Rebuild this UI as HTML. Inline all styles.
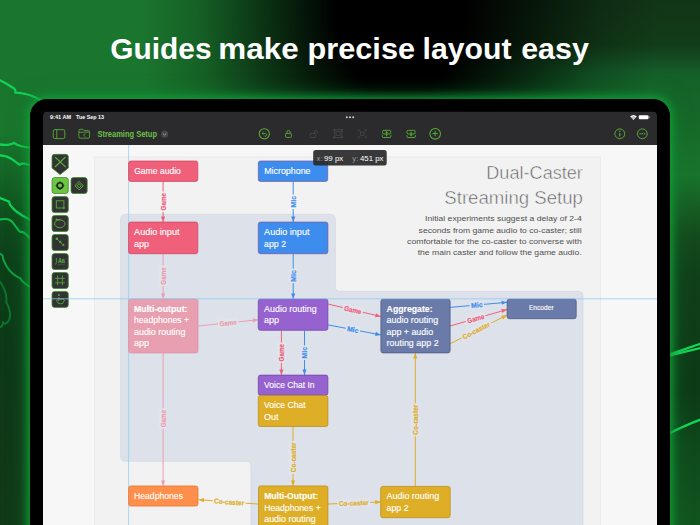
<!DOCTYPE html>
<html><head><meta charset="utf-8"><title>Guides make precise layout easy</title>
<style>
html,body{margin:0;padding:0;}
body{width:700px;height:525px;overflow:hidden;position:relative;background:#0b2e14;font-family:"Liberation Sans", sans-serif;}
#bg{position:absolute;left:0;top:0;width:700px;height:525px;
background:
 radial-gradient(ellipse 260px 330px at 400px 10px, #000 0%, #000 25%, rgba(0,0,0,0.9) 31%, rgba(0,0,0,0.67) 46%, rgba(0,0,0,0.43) 61.5%, rgba(0,0,0,0.18) 78%, rgba(0,0,0,0) 100%),
 linear-gradient(to bottom, #1a762e 0px, #1a752d 135px, #146225 180px, #0f4a1c 225px, #0d4019 260px, #0d3918 340px, #103818 440px, #113a19 525px) 0 0 / 350px 525px no-repeat,
 linear-gradient(to bottom, #113417 0px, #123c19 45px, #15602a 75px, #166828 120px, #19742d 175px, #175f25 205px, #144b1d 235px, #10401a 275px, #0d3a16 390px, #0f4a1c 450px, #12551f 525px) 350px 0 / 350px 525px no-repeat;}
#tablet{position:absolute;left:30.3px;top:99px;width:639.4px;height:460px;border-radius:17px;background:#000;
box-shadow:0 0 8px 1.5px rgba(18,158,58,0.95), 0 0 18px 4px rgba(16,140,52,0.5);}
svg{position:absolute;left:0;top:0;}
text{font-family:"Liberation Sans", sans-serif;}
</style></head><body>
<div id="bg"></div>
<svg width="700" height="525" viewBox="0 0 700 525">
<g fill="none" stroke-linecap="round" stroke-linejoin="round">
<g stroke="#11d356" stroke-width="2.3">
<path d="M-2,79.2 Q7,83.5 13.7,88.2 Q16,90 15.4,92.6 Q19,92.6 22.6,93.3 Q28,94.2 32.2,96 Q37,98 42,101"/>
<path d="M-2,144.2 Q5,145.4 9,144.6 Q12.5,144 14,142.9 Q17,145 20.6,146 Q25,147 31,147.6"/>
<path d="M-2,155 Q3,155.6 6.9,156.6 Q11.5,158.4 15,161.4 Q17.5,163.4 19.5,164.8 Q21,163.4 23.3,163.4 Q27,164 31,165.8"/>
<path d="M-2,197.2 Q2,198.6 5.5,200.3 Q7.6,201.2 9.3,201.7 Q9.2,203.4 10.3,205.1 Q13,209 17.1,212 Q23,216.5 31,220.2"/>
</g>
<g stroke="#0fb84a" stroke-width="2.1">
<path d="M-2,219.8 Q3,218.6 6.9,219.1 Q10,219.8 12,221.6 Q14.5,224.5 16.5,227.5 Q18,230 19.7,231.6 Q21.8,231.6 23.8,232.5 Q27,234.6 31,239.4"/>
</g>
<g stroke="#0da242" stroke-width="2">
<path d="M-2,252.6 Q1,254 2.7,255.8 Q2.8,258 3.7,260.4 Q5,264 7,267 Q10,271.4 13.5,274.2 Q16.5,276.6 20.6,278.5 Q21.2,280.2 22.9,281.7 Q26,284.4 31,287.6"/>
</g>
<g stroke="#0c7631" stroke-width="1.9">
<path d="M-2,279.8 Q1.4,283 2.7,285.8 Q4.8,290 5.9,294 Q6.6,298.4 6.4,302.7 Q8.6,306 9.1,309 Q10.4,313 10,316.5 Q9.4,320 7.8,322 Q6,323.8 4.6,323.8 Q3.6,323.2 3.2,322 Q2.8,325 1.8,326.5 L-2,327.6"/>
</g>
<g stroke="#12d858" stroke-width="2.3">
<path d="M669,354.6 L702,343.2"/><path d="M669,355.6 L702,347.6"/>
<path d="M669,433.6 Q683.5,426 702,419"/>
</g>
</g>
</svg>
<div id="tablet"></div>
<svg width="700" height="525" viewBox="0 0 700 525">
<defs><clipPath id="scr"><path d="M43,530 V116 Q43,111.6 47.4,111.6 H652.7 Q657.1,111.6 657.1,116 V530 Z"/></clipPath></defs>
<g clip-path="url(#scr)">
<rect x="43" y="145" width="614" height="390" fill="#f7f7f7"/>
<rect x="94.5" y="157" width="506" height="380" fill="#f2f2f2" stroke="#e4e4e4" stroke-width="0.6"/>
<path d="M125.6,214.4 H330.3 Q335.3,214.4 335.3,219.4 V286.3 Q335.3,291.3 340.3,291.3 H578 Q583,291.3 583,296.3 V540 H250.9 V466.3 Q250.9,461.3 245.9,461.3 H125.6 Q120.6,461.3 120.6,456.3 V219.4 Q120.6,214.4 125.6,214.4 Z" fill="#dde1ea" stroke="#cdd3e0" stroke-width="0.6"/>
<line x1="128.6" y1="145" x2="128.6" y2="525" stroke="#8fcdf2" stroke-width="0.7"/>
<line x1="163.1" y1="181.5" x2="163.1" y2="222" stroke="#f0607a" stroke-width="1"/><polygon points="163.10,222.00 161.00,216.60 165.20,216.60" fill="#f0607a"/><g transform="translate(163.10,201.75) rotate(-90.00)"><rect x="-10.25" y="-4.4" width="20.50" height="8.8" fill="#f2f2f2"/><text x="0" y="2.5" font-size="7" fill="#f0607a" font-weight="bold" text-anchor="middle" textLength="17.5" lengthAdjust="spacingAndGlyphs" stroke="#f0607a" stroke-width="0.18">Game</text></g>
<line x1="293.2" y1="181.5" x2="293.2" y2="222" stroke="#3d8dee" stroke-width="1"/><polygon points="293.20,222.00 291.10,216.60 295.30,216.60" fill="#3d8dee"/><g transform="translate(293.20,201.75) rotate(-90.00)"><rect x="-7.25" y="-4.4" width="14.50" height="8.8" fill="#f2f2f2"/><text x="0" y="2.5" font-size="7" fill="#3d8dee" font-weight="bold" text-anchor="middle" textLength="11.5" lengthAdjust="spacingAndGlyphs" stroke="#3d8dee" stroke-width="0.18">Mic</text></g>
<line x1="163.1" y1="254" x2="163.1" y2="298.8" stroke="#e89fb0" stroke-width="1"/><polygon points="163.10,298.80 161.00,293.40 165.20,293.40" fill="#e89fb0"/><g transform="translate(163.10,275.95) rotate(-90.00)"><rect x="-10.25" y="-4.4" width="20.50" height="8.8" fill="#e1e4ec"/><text x="0" y="2.5" font-size="7" fill="#e89fb0" font-weight="bold" text-anchor="middle" textLength="17.5" lengthAdjust="spacingAndGlyphs" stroke="#e89fb0" stroke-width="0.18">Game</text></g>
<line x1="293.2" y1="254" x2="293.2" y2="298.8" stroke="#3d8dee" stroke-width="1"/><polygon points="293.20,298.80 291.10,293.40 295.30,293.40" fill="#3d8dee"/><g transform="translate(293.20,275.95) rotate(-90.00)"><rect x="-7.25" y="-4.4" width="14.50" height="8.8" fill="#e1e4ec"/><text x="0" y="2.5" font-size="7" fill="#3d8dee" font-weight="bold" text-anchor="middle" textLength="11.5" lengthAdjust="spacingAndGlyphs" stroke="#3d8dee" stroke-width="0.18">Mic</text></g>
<line x1="163.1" y1="353" x2="163.1" y2="485.8" stroke="#e89fb0" stroke-width="1"/><polygon points="163.10,485.80 161.00,480.40 165.20,480.40" fill="#e89fb0"/><g transform="translate(163.10,418.60) rotate(-90.00)"><rect x="-10.25" y="-4.4" width="20.50" height="8.8" fill="#e1e4ec"/><text x="0" y="2.5" font-size="7" fill="#e89fb0" font-weight="bold" text-anchor="middle" textLength="17.5" lengthAdjust="spacingAndGlyphs" stroke="#e89fb0" stroke-width="0.18">Game</text></g>
<line x1="281.4" y1="330.5" x2="281.4" y2="375" stroke="#f0607a" stroke-width="1"/><polygon points="281.40,375.00 279.30,369.60 283.50,369.60" fill="#f0607a"/><g transform="translate(281.40,352.75) rotate(-90.00)"><rect x="-10.25" y="-4.4" width="20.50" height="8.8" fill="#e1e4ec"/><text x="0" y="2.5" font-size="7" fill="#f0607a" font-weight="bold" text-anchor="middle" textLength="17.5" lengthAdjust="spacingAndGlyphs" stroke="#f0607a" stroke-width="0.18">Game</text></g>
<line x1="304.5" y1="330.5" x2="304.5" y2="375" stroke="#3d8dee" stroke-width="1"/><polygon points="304.50,375.00 302.40,369.60 306.60,369.60" fill="#3d8dee"/><g transform="translate(304.50,352.75) rotate(-90.00)"><rect x="-7.25" y="-4.4" width="14.50" height="8.8" fill="#e1e4ec"/><text x="0" y="2.5" font-size="7" fill="#3d8dee" font-weight="bold" text-anchor="middle" textLength="11.5" lengthAdjust="spacingAndGlyphs" stroke="#3d8dee" stroke-width="0.18">Mic</text></g>
<line x1="293" y1="426.5" x2="293" y2="485.8" stroke="#dfae27" stroke-width="1"/><polygon points="293.00,485.80 290.90,480.40 295.10,480.40" fill="#dfae27"/><g transform="translate(293.00,457.34) rotate(-90.00)"><rect x="-16.50" y="-4.4" width="33.00" height="8.8" fill="#e1e4ec"/><text x="0" y="2.5" font-size="7" fill="#dfae27" font-weight="bold" text-anchor="middle" textLength="30" lengthAdjust="spacingAndGlyphs" stroke="#dfae27" stroke-width="0.18">Co-caster</text></g>
<line x1="415.3" y1="486.4" x2="415.3" y2="353" stroke="#dfae27" stroke-width="1"/><polygon points="415.30,353.00 417.40,358.40 413.20,358.40" fill="#dfae27"/><g transform="translate(415.30,419.70) rotate(-90.00)"><rect x="-16.50" y="-4.4" width="33.00" height="8.8" fill="#e1e4ec"/><text x="0" y="2.5" font-size="7" fill="#dfae27" font-weight="bold" text-anchor="middle" textLength="30" lengthAdjust="spacingAndGlyphs" stroke="#dfae27" stroke-width="0.18">Co-caster</text></g>
<line x1="198" y1="326" x2="258.3" y2="319.8" stroke="#e89fb0" stroke-width="1"/><polygon points="258.30,319.80 253.14,322.44 252.71,318.26" fill="#e89fb0"/><g transform="translate(228.15,322.90) rotate(-5.87)"><rect x="-10.25" y="-4.4" width="20.50" height="8.8" fill="#e1e4ec"/><text x="0" y="2.5" font-size="7" fill="#e89fb0" font-weight="bold" text-anchor="middle" textLength="17.5" lengthAdjust="spacingAndGlyphs" stroke="#e89fb0" stroke-width="0.18">Game</text></g>
<line x1="328" y1="304" x2="380.8" y2="316.5" stroke="#f0607a" stroke-width="1"/><polygon points="380.80,316.50 375.06,317.30 376.03,313.21" fill="#f0607a"/><g transform="translate(352.82,309.88) rotate(13.32)"><rect x="-10.25" y="-4.4" width="20.50" height="8.8" fill="#e1e4ec"/><text x="0" y="2.5" font-size="7" fill="#f0607a" font-weight="bold" text-anchor="middle" textLength="17.5" lengthAdjust="spacingAndGlyphs" stroke="#f0607a" stroke-width="0.18">Game</text></g>
<line x1="328" y1="324.9" x2="380.8" y2="334.9" stroke="#3d8dee" stroke-width="1"/><polygon points="380.80,334.90 375.10,335.96 375.89,331.83" fill="#3d8dee"/><g transform="translate(352.82,329.60) rotate(10.72)"><rect x="-7.25" y="-4.4" width="14.50" height="8.8" fill="#e1e4ec"/><text x="0" y="2.5" font-size="7" fill="#3d8dee" font-weight="bold" text-anchor="middle" textLength="11.5" lengthAdjust="spacingAndGlyphs" stroke="#3d8dee" stroke-width="0.18">Mic</text></g>
<line x1="450" y1="307.4" x2="507" y2="302.3" stroke="#3d8dee" stroke-width="1"/><polygon points="507.00,302.30 501.81,304.87 501.43,300.69" fill="#3d8dee"/><g transform="translate(476.79,305.00) rotate(-5.11)"><rect x="-7.25" y="-4.4" width="14.50" height="8.8" fill="#e1e4ec"/><text x="0" y="2.5" font-size="7" fill="#3d8dee" font-weight="bold" text-anchor="middle" textLength="11.5" lengthAdjust="spacingAndGlyphs" stroke="#3d8dee" stroke-width="0.18">Mic</text></g>
<line x1="450" y1="326" x2="507" y2="309.5" stroke="#f0607a" stroke-width="1"/><polygon points="507.00,309.50 502.40,313.02 501.23,308.98" fill="#f0607a"/><g transform="translate(475.65,318.57) rotate(-16.14)"><rect x="-10.25" y="-4.4" width="20.50" height="8.8" fill="#e1e4ec"/><text x="0" y="2.5" font-size="7" fill="#f0607a" font-weight="bold" text-anchor="middle" textLength="17.5" lengthAdjust="spacingAndGlyphs" stroke="#f0607a" stroke-width="0.18">Game</text></g>
<line x1="450" y1="343.8" x2="507" y2="315.1" stroke="#dfae27" stroke-width="1"/><polygon points="507.00,315.10 503.12,319.40 501.23,315.65" fill="#dfae27"/><g transform="translate(476.22,330.60) rotate(-26.73)"><rect x="-16.50" y="-4.4" width="33.00" height="8.8" fill="#e1e4ec"/><text x="0" y="2.5" font-size="7" fill="#dfae27" font-weight="bold" text-anchor="middle" textLength="30" lengthAdjust="spacingAndGlyphs" stroke="#dfae27" stroke-width="0.18">Co-caster</text></g>
<line x1="258.5" y1="504.1" x2="198.6" y2="499.7" stroke="#dfae27" stroke-width="1"/><polygon points="198.60,499.70 204.14,498.00 203.83,502.19" fill="#dfae27"/><g transform="translate(229.15,501.94) rotate(4.20)"><rect x="-16.50" y="-4.4" width="33.00" height="8.8" fill="#f2f2f2"/><text x="0" y="2.5" font-size="7" fill="#dfae27" font-weight="bold" text-anchor="middle" textLength="30" lengthAdjust="spacingAndGlyphs" stroke="#dfae27" stroke-width="0.18">Co-caster</text></g>
<line x1="328" y1="504" x2="380.6" y2="502" stroke="#dfae27" stroke-width="1"/><polygon points="380.60,502.00 375.28,504.30 375.12,500.11" fill="#dfae27"/><g transform="translate(353.77,503.02) rotate(-2.18)"><rect x="-16.50" y="-4.4" width="33.00" height="8.8" fill="#e1e4ec"/><text x="0" y="2.5" font-size="7" fill="#dfae27" font-weight="bold" text-anchor="middle" textLength="30" lengthAdjust="spacingAndGlyphs" stroke="#dfae27" stroke-width="0.18">Co-caster</text></g>
<rect x="128.6" y="161" width="69.2" height="20.4" rx="2.2" fill="#f0607a" stroke="#c9465f" stroke-width="0.75"/><text x="134.2" y="173.8" font-size="8.4" fill="#fff" font-weight="normal" text-anchor="start" textLength="46.7" lengthAdjust="spacingAndGlyphs" stroke="#fff" stroke-width="0.12">Game audio</text>
<rect x="258.3" y="161" width="69.4" height="20.4" rx="2.2" fill="#3d8dee" stroke="#7a5a9e" stroke-width="0.75"/><text x="264.2" y="173.8" font-size="8.4" fill="#fff" font-weight="normal" text-anchor="start" textLength="46.3" lengthAdjust="spacingAndGlyphs" stroke="#fff" stroke-width="0.12">Microphone</text>
<rect x="128.6" y="222.1" width="69.2" height="31.6" rx="2.2" fill="#f0607a" stroke="#c9465f" stroke-width="0.75"/><text x="134.1" y="235.2" font-size="8.4" fill="#fff" font-weight="normal" text-anchor="start" textLength="45.4" lengthAdjust="spacingAndGlyphs" stroke="#fff" stroke-width="0.12">Audio input</text><text x="134.1" y="246.6" font-size="8.4" fill="#fff" font-weight="normal" text-anchor="start" textLength="15" lengthAdjust="spacingAndGlyphs" stroke="#fff" stroke-width="0.12">app</text>
<rect x="258.3" y="222.1" width="69.6" height="31.6" rx="2.2" fill="#3d8dee" stroke="#7a5a9e" stroke-width="0.75"/><text x="264.1" y="235.2" font-size="8.4" fill="#fff" font-weight="normal" text-anchor="start" textLength="45.4" lengthAdjust="spacingAndGlyphs" stroke="#fff" stroke-width="0.12">Audio input</text><text x="264.1" y="246.6" font-size="8.4" fill="#fff" font-weight="normal" text-anchor="start" textLength="22" lengthAdjust="spacingAndGlyphs" stroke="#fff" stroke-width="0.12">app 2</text>
<rect x="128.6" y="299" width="69.4" height="53.9" rx="2.2" fill="#e89fb0" stroke="#dd8fa2" stroke-width="0.75"/><text x="134" y="311.7" font-size="8.4" fill="#fff" font-weight="bold" text-anchor="start" textLength="53.5" lengthAdjust="spacingAndGlyphs" stroke="#fff" stroke-width="0.12">Multi-output:</text><text x="134" y="323.2" font-size="8.4" fill="#fff" font-weight="normal" text-anchor="start" textLength="55" lengthAdjust="spacingAndGlyphs" stroke="#fff" stroke-width="0.12">headphones +</text><text x="134" y="334.6" font-size="8.4" fill="#fff" font-weight="normal" text-anchor="start" textLength="51.5" lengthAdjust="spacingAndGlyphs" stroke="#fff" stroke-width="0.12">audio routing</text><text x="134" y="346" font-size="8.4" fill="#fff" font-weight="normal" text-anchor="start" textLength="15" lengthAdjust="spacingAndGlyphs" stroke="#fff" stroke-width="0.12">app</text>
<rect x="258.3" y="299" width="69.6" height="31.3" rx="2.2" fill="#9562d0" stroke="#6f45a3" stroke-width="0.75"/><text x="264.1" y="311.7" font-size="8.4" fill="#fff" font-weight="normal" text-anchor="start" textLength="52.5" lengthAdjust="spacingAndGlyphs" stroke="#fff" stroke-width="0.12">Audio routing</text><text x="264.1" y="323.2" font-size="8.4" fill="#fff" font-weight="normal" text-anchor="start" textLength="15" lengthAdjust="spacingAndGlyphs" stroke="#fff" stroke-width="0.12">app</text>
<rect x="380.9" y="299.2" width="69.2" height="53.7" rx="2.2" fill="#6b7ba9" stroke="#48557c" stroke-width="0.75"/><text x="386.6" y="311.7" font-size="8.4" fill="#fff" font-weight="bold" text-anchor="start" textLength="46" lengthAdjust="spacingAndGlyphs" stroke="#fff" stroke-width="0.12">Aggregate:</text><text x="386.6" y="323.2" font-size="8.4" fill="#fff" font-weight="normal" text-anchor="start" textLength="51.5" lengthAdjust="spacingAndGlyphs" stroke="#fff" stroke-width="0.12">audio routing</text><text x="386.6" y="334.6" font-size="8.4" fill="#fff" font-weight="normal" text-anchor="start" textLength="46.5" lengthAdjust="spacingAndGlyphs" stroke="#fff" stroke-width="0.12">app + audio</text><text x="386.6" y="346" font-size="8.4" fill="#fff" font-weight="normal" text-anchor="start" textLength="52" lengthAdjust="spacingAndGlyphs" stroke="#fff" stroke-width="0.12">routing app 2</text>
<rect x="507.1" y="299.1" width="69.1" height="19.6" rx="2.2" fill="#6b7ba9" stroke="#48557c" stroke-width="0.75"/><text x="528.9" y="309.9" font-size="6.6" fill="#fff" font-weight="normal" text-anchor="start" textLength="24.7" lengthAdjust="spacingAndGlyphs" stroke="#fff" stroke-width="0.12">Encoder</text>
<rect x="258.3" y="375.1" width="69.6" height="20.2" rx="2.2" fill="#9562d0" stroke="#6f45a3" stroke-width="0.75"/><text x="264.1" y="388" font-size="8.4" fill="#fff" font-weight="normal" text-anchor="start" textLength="50.5" lengthAdjust="spacingAndGlyphs" stroke="#fff" stroke-width="0.12">Voice Chat In</text>
<rect x="258.3" y="395.5" width="69.6" height="31" rx="2.2" fill="#dfae27" stroke="#b98c18" stroke-width="0.75"/><text x="264.1" y="408.3" font-size="8.4" fill="#fff" font-weight="normal" text-anchor="start" textLength="41.5" lengthAdjust="spacingAndGlyphs" stroke="#fff" stroke-width="0.12">Voice Chat</text><text x="264.1" y="419.7" font-size="8.4" fill="#fff" font-weight="normal" text-anchor="start" textLength="14.5" lengthAdjust="spacingAndGlyphs" stroke="#fff" stroke-width="0.12">Out</text>
<rect x="128.6" y="485.9" width="69.4" height="20.2" rx="2.2" fill="#ff8f4b" stroke="#e07a3c" stroke-width="0.75"/><text x="134" y="498.8" font-size="8.4" fill="#fff" font-weight="normal" text-anchor="start" textLength="49" lengthAdjust="spacingAndGlyphs" stroke="#fff" stroke-width="0.12">Headphones</text>
<rect x="258.5" y="485.9" width="69.4" height="45" rx="2.2" fill="#dfae27" stroke="#b98c18" stroke-width="0.75"/><text x="264.2" y="499" font-size="8.4" fill="#fff" font-weight="bold" text-anchor="start" textLength="54" lengthAdjust="spacingAndGlyphs" stroke="#fff" stroke-width="0.12">Multi-Output:</text><text x="264.2" y="510.5" font-size="8.4" fill="#fff" font-weight="normal" text-anchor="start" textLength="56.5" lengthAdjust="spacingAndGlyphs" stroke="#fff" stroke-width="0.12">Headphones +</text><text x="264.2" y="522" font-size="8.4" fill="#fff" font-weight="normal" text-anchor="start" textLength="51.5" lengthAdjust="spacingAndGlyphs" stroke="#fff" stroke-width="0.12">audio routing</text>
<rect x="380.7" y="486.4" width="69.5" height="31.3" rx="2.2" fill="#dfae27" stroke="#b98c18" stroke-width="0.75"/><text x="386.6" y="499" font-size="8.4" fill="#fff" font-weight="normal" text-anchor="start" textLength="52.5" lengthAdjust="spacingAndGlyphs" stroke="#fff" stroke-width="0.12">Audio routing</text><text x="386.6" y="510.5" font-size="8.4" fill="#fff" font-weight="normal" text-anchor="start" textLength="22" lengthAdjust="spacingAndGlyphs" stroke="#fff" stroke-width="0.12">app 2</text>
<text x="582.9" y="178.6" font-size="19.2" fill="#5e5e5e" font-weight="normal" text-anchor="end" textLength="96.6" lengthAdjust="spacingAndGlyphs" stroke="#f2f2f2" stroke-width="0.55">Dual-Caster</text>
<text x="582.9" y="204.3" font-size="19.2" fill="#5e5e5e" font-weight="normal" text-anchor="end" textLength="138.6" lengthAdjust="spacingAndGlyphs" stroke="#f2f2f2" stroke-width="0.55">Streaming Setup</text>
<text x="425.1" y="221.4" font-size="8.1" fill="#505050" font-weight="normal" text-anchor="start" textLength="156.6" lengthAdjust="spacingAndGlyphs" >Initial experiments suggest a delay of 2-4</text>
<text x="418.6" y="232.7" font-size="8.1" fill="#505050" font-weight="normal" text-anchor="start" textLength="163.1" lengthAdjust="spacingAndGlyphs" >seconds from game audio to co-caster; still</text>
<text x="407.1" y="244.1" font-size="8.1" fill="#505050" font-weight="normal" text-anchor="start" textLength="174.6" lengthAdjust="spacingAndGlyphs" >comfortable for the co-caster to converse with</text>
<text x="417.7" y="255.3" font-size="8.1" fill="#505050" font-weight="normal" text-anchor="start" textLength="164.0" lengthAdjust="spacingAndGlyphs" >the main caster and follow the game audio.</text>
<rect x="313.2" y="150" width="73.5" height="15.6" rx="2.5" fill="#2a2a2c" fill-opacity="0.93"/>
<text x="316.6" y="160.6" font-size="7.6" fill="#9a9a9a" font-weight="normal" text-anchor="start" textLength="6" lengthAdjust="spacingAndGlyphs" >x:</text>
<text x="324" y="160.6" font-size="7.6" fill="#fff" font-weight="normal" text-anchor="start" textLength="19.2" lengthAdjust="spacingAndGlyphs" >99 px</text>
<text x="352.3" y="160.6" font-size="7.6" fill="#9a9a9a" font-weight="normal" text-anchor="start" textLength="6" lengthAdjust="spacingAndGlyphs" >y:</text>
<text x="360" y="160.6" font-size="7.6" fill="#fff" font-weight="normal" text-anchor="start" textLength="23.5" lengthAdjust="spacingAndGlyphs" >451 px</text>
<path d="M54.6,154.3 H65.8 Q68.3,154.3 68.3,156.8 V168 L60.15,174.6 L52,168 V156.8 Q52,154.3 54.6,154.3 Z" fill="#333335" stroke="#fff" stroke-opacity="0.85" stroke-width="2.4" stroke-linejoin="round"/>
<path d="M54.6,154.3 H65.8 Q68.3,154.3 68.3,156.8 V168 L60.15,174.6 L52,168 V156.8 Q52,154.3 54.6,154.3 Z" fill="#333335" stroke="#3f8a2a" stroke-width="0.8" stroke-linejoin="round"/>
<path d="M55,157 L65.8,167.1 M65.4,157 L55,167" stroke="#58ad36" stroke-width="1.1" fill="none"/>
<rect x="51.1" y="176.6" width="18.1" height="17.8" rx="3.4" fill="#fff" fill-opacity="0.85"/><rect x="52" y="177.5" width="16.3" height="16" rx="2.6" fill="#6cc644" stroke="#3f8a2a" stroke-width="0.8"/>
<rect x="51.1" y="195.7" width="18.1" height="17.8" rx="3.4" fill="#fff" fill-opacity="0.85"/><rect x="52" y="196.6" width="16.3" height="16" rx="2.6" fill="#333335" stroke="#3f8a2a" stroke-width="0.8"/>
<rect x="51.1" y="214.6" width="18.1" height="17.8" rx="3.4" fill="#fff" fill-opacity="0.85"/><rect x="52" y="215.5" width="16.3" height="16" rx="2.6" fill="#333335" stroke="#3f8a2a" stroke-width="0.8"/>
<rect x="51.1" y="233.6" width="18.1" height="17.8" rx="3.4" fill="#fff" fill-opacity="0.85"/><rect x="52" y="234.5" width="16.3" height="16" rx="2.6" fill="#333335" stroke="#3f8a2a" stroke-width="0.8"/>
<rect x="51.1" y="252.6" width="18.1" height="17.8" rx="3.4" fill="#fff" fill-opacity="0.85"/><rect x="52" y="253.5" width="16.3" height="16" rx="2.6" fill="#333335" stroke="#3f8a2a" stroke-width="0.8"/>
<rect x="51.1" y="271.6" width="18.1" height="17.8" rx="3.4" fill="#fff" fill-opacity="0.85"/><rect x="52" y="272.5" width="16.3" height="16" rx="2.6" fill="#333335" stroke="#3f8a2a" stroke-width="0.8"/>
<rect x="51.1" y="290.5" width="18.1" height="17.8" rx="3.4" fill="#fff" fill-opacity="0.85"/><rect x="52" y="291.4" width="16.3" height="16" rx="2.6" fill="#333335" stroke="#3f8a2a" stroke-width="0.8"/>
<rect x="70.1" y="176.6" width="18.0" height="17.8" rx="3.4" fill="#fff" fill-opacity="0.85"/><rect x="71" y="177.5" width="16.2" height="16" rx="2.6" fill="#333335" stroke="#3f8a2a" stroke-width="0.8"/>
<circle cx="60" cy="185.6" r="2.85" fill="none" stroke="#1f2a1a" stroke-width="1.7"/><path d="M58.9,182.4 L60,181 L61.1,182.4 Z M58.9,188.8 L60,190.2 L61.1,188.8 Z M56.8,184.5 L55.4,185.6 L56.8,186.7 Z M63.2,184.5 L64.6,185.6 L63.2,186.7 Z" fill="#1f2a1a"/>
<path d="M79.1,181.5 L83.3,185.7 L79.1,189.9 L74.9,185.7 Z" fill="none" stroke="#58ad36" stroke-width="1"/><path d="M79.1,183.7 L81.1,185.7 L79.1,187.7 L77.1,185.7 Z" fill="none" stroke="#58ad36" stroke-width="1"/>
<rect x="56.3" y="200.8" width="7.6" height="7.2" fill="none" stroke="#58ad36" stroke-width="0.9"/><circle cx="63.9" cy="208" r="0.9" fill="#58ad36"/>
<ellipse cx="59.8" cy="223.8" rx="5.2" ry="3.9" fill="none" stroke="#58ad36" stroke-width="0.95"/><path d="M56.4,219.4 Q58.5,219.2 60.5,220" stroke="#58ad36" stroke-width="0.9" fill="none"/><circle cx="56.3" cy="219.4" r="0.9" fill="#58ad36"/>
<path d="M56.6,238.5 L63.5,245.1" stroke="#58ad36" stroke-width="0.9"/><circle cx="56.8" cy="238.7" r="1.25" fill="#58ad36"/><circle cx="60.2" cy="241.9" r="1.05" fill="#58ad36"/><circle cx="63.4" cy="245" r="0.95" fill="#58ad36"/>
<text x="57.9" y="263.3" font-size="6.4" fill="#58ad36" font-weight="bold" text-anchor="start" textLength="7" lengthAdjust="spacingAndGlyphs" >Aa</text>
<path d="M56.4,258 V262.4 L55.6,264.4" stroke="#58ad36" stroke-width="0.75" fill="none"/><path d="M57.4,264.3 H64.8" stroke="#58ad36" stroke-width="0.45" stroke-opacity="0.7"/>
<path d="M57.6,275.6 V285.2 M62.4,275.6 V285.2 M55.2,278.4 H64.8 M55.2,282.8 H64.8" stroke="#58ad36" stroke-width="0.8" fill="none"/>
<circle cx="58.9" cy="295" r="0.95" fill="#58ad36"/><path d="M58.9,297 V300.6 M58.9,299 H62.6 Q64.4,299 64.2,300.8 Q63.8,303.8 60.6,303.8 Q57.6,303.8 56.6,301.2 Q56.3,300 57.4,299.9 L58.9,300.8" stroke="#58ad36" stroke-width="0.85" fill="none" stroke-linejoin="round"/>
<line x1="43" y1="298.8" x2="657" y2="298.8" stroke="#8fcdf2" stroke-width="0.9" stroke-opacity="0.85"/>
<path d="M43,145 V116 Q43,111.6 47.4,111.6 H652.7 Q657.1,111.6 657.1,116 V145 Z" fill="#2b2b2d"/>
<text x="50" y="119" font-size="5.4" fill="#fff" font-weight="bold" text-anchor="start" textLength="21" lengthAdjust="spacingAndGlyphs" >9:41 AM</text>
<text x="76" y="119" font-size="5.4" fill="#fff" font-weight="bold" text-anchor="start" textLength="28" lengthAdjust="spacingAndGlyphs" >Tue Sep 13</text>
<circle cx="346.8" cy="117.3" r="1" fill="#d0d0d0"/>
<circle cx="350" cy="117.3" r="1" fill="#d0d0d0"/>
<circle cx="353.2" cy="117.3" r="1" fill="#d0d0d0"/>
<path d="M630.1,116.5 Q633.45,113.5 636.8,116.5 L633.45,119.9 Z" fill="#fff"/><path d="M631.3,117.6 Q633.45,115.7 635.6,117.6 M632.3,118.6 Q633.45,117.7 634.6,118.6" fill="none" stroke="#2b2b2d" stroke-width="0.45"/>
<rect x="638.8" y="115.2" width="9.7" height="4.1" rx="1.1" fill="#fff"/><rect x="649.2" y="116.3" width="0.9" height="1.9" rx="0.4" fill="#9a9a9a"/>
<rect x="53.2" y="129.6" width="11.6" height="9" rx="1.6" fill="none" stroke="#58ad36" stroke-width="0.9"/><path d="M56.8,129.6 V138.6" stroke="#58ad36" stroke-width="0.9"/>
<path d="M78.9,131 V137 Q78.9,138.2 80.1,138.2 H88.3 Q89.5,138.2 89.5,137 V131.8 Q89.5,130.6 88.3,130.6 H84 L83,129.3 H80.1 Q78.9,129.3 78.9,130.5 Z M78.9,132.2 H89.5" fill="none" stroke="#58ad36" stroke-width="0.85"/><path d="M85.3,133.6 L83.6,135.2 L85.3,136.8" fill="none" stroke="#58ad36" stroke-width="0.85"/>
<text x="97.4" y="136.7" font-size="8.3" fill="#6cc046" font-weight="bold" text-anchor="start" textLength="59.6" lengthAdjust="spacingAndGlyphs" >Streaming Setup</text>
<circle cx="164.6" cy="134.2" r="3.6" fill="#48484a"/><path d="M162.9,133.5 L164.6,135.1 L166.3,133.5" fill="none" stroke="#b0b0b0" stroke-width="0.8"/>
<circle cx="264.3" cy="133.8" r="5.1" fill="none" stroke="#58ad36" stroke-width="1.05"/><path d="M262.3,133.4 H265.3 Q266.7,133.4 266.7,134.8 Q266.7,136.1 265.3,136.1 H264.3 M263.5,132 L262.1,133.4 L263.5,134.8" fill="none" stroke="#58ad36" stroke-width="0.8"/>
<rect x="285.6" y="133.4" width="5.8" height="4" rx="0.8" fill="none" stroke="#58ad36" stroke-width="0.9"/><path d="M286.9,133.4 V132 Q286.9,130.5 288.5,130.5 Q290.1,130.5 290.1,132 V133.4" fill="none" stroke="#58ad36" stroke-width="0.85"/>
<rect x="310.2" y="133.5" width="5.4" height="4" rx="0.8" fill="none" stroke="#464648" stroke-width="0.9"/><path d="M314.4,133.5 V132.2 Q314.4,130.7 316,130.7 Q317.6,130.7 317.6,132.2 V132.8" fill="none" stroke="#464648" stroke-width="0.9"/>
<rect x="334.3" y="129.8" width="7.6" height="7.6" fill="none" stroke="#464648" stroke-width="0.8"/><rect x="336" y="131.5" width="4.2" height="4.2" fill="none" stroke="#464648" stroke-width="0.7"/><rect x="333.40000000000003" y="128.9" width="1.8" height="1.8" fill="#464648"/><rect x="333.40000000000003" y="136.5" width="1.8" height="1.8" fill="#464648"/><rect x="341.0" y="128.9" width="1.8" height="1.8" fill="#464648"/><rect x="341.0" y="136.5" width="1.8" height="1.8" fill="#464648"/>
<rect x="360.6" y="132" width="3.4" height="3.4" fill="none" stroke="#464648" stroke-width="0.7"/><path d="M358.8,130.2 L360.6,132 M365.8,130.2 L364,132 M358.8,137.2 L360.6,135.4 M365.8,137.2 L364,135.4" stroke="#464648" stroke-width="0.7"/><rect x="357.85" y="129.25" width="1.5" height="1.5" fill="#464648"/><rect x="357.85" y="136.65" width="1.5" height="1.5" fill="#464648"/><rect x="365.25" y="129.25" width="1.5" height="1.5" fill="#464648"/><rect x="365.25" y="136.65" width="1.5" height="1.5" fill="#464648"/>
<rect x="382.54999999999995" y="130.3" width="8.2" height="3.7" rx="1.4" fill="none" stroke="#58ad36" stroke-width="0.95"/><path d="M382.34999999999997,135.2 V136.2 Q382.34999999999997,137.5 383.65,137.5 H389.65 Q390.95,137.5 390.95,136.2 V135.2" fill="none" stroke="#58ad36" stroke-width="0.95"/><path d="M386.65,136.2 V131.6" stroke="#58ad36" stroke-width="0.95"/><path d="M385.25,132.7 L386.65,131.1 L388.04999999999995,132.7 Z" fill="#58ad36"/>
<rect x="407.0" y="130.3" width="8.2" height="3.7" rx="1.4" fill="none" stroke="#58ad36" stroke-width="0.95"/><path d="M406.8,135.2 V136.2 Q406.8,137.5 408.1,137.5 H414.1 Q415.40000000000003,137.5 415.40000000000003,136.2 V135.2" fill="none" stroke="#58ad36" stroke-width="0.95"/><path d="M411.1,131.6 V135.6" stroke="#58ad36" stroke-width="0.95"/><path d="M409.70000000000005,134.6 L411.1,136.3 L412.5,134.6 Z" fill="#58ad36"/>
<circle cx="435.2" cy="133.8" r="5.3" fill="none" stroke="#58ad36" stroke-width="1.05"/><path d="M435.1,130.9 V136.3 M432.4,133.6 H437.8" stroke="#58ad36" stroke-width="1"/>
<circle cx="619.8" cy="133.8" r="4.9" fill="none" stroke="#58ad36" stroke-width="0.95"/><path d="M619.8,133 V136.6" stroke="#58ad36" stroke-width="1.15"/><circle cx="619.8" cy="131.3" r="0.7" fill="#58ad36"/>
<circle cx="642.3" cy="133.8" r="4.9" fill="none" stroke="#58ad36" stroke-width="0.95"/><circle cx="640.0999999999999" cy="133.8" r="0.8" fill="#58ad36"/><circle cx="642.3" cy="133.8" r="0.8" fill="#58ad36"/><circle cx="644.5" cy="133.8" r="0.8" fill="#58ad36"/>
</g>
<text x="110.3" y="59.1" font-size="30" fill="#fff" font-weight="bold" text-anchor="start" textLength="101.2" lengthAdjust="spacingAndGlyphs" >Guides</text><text x="218.3" y="59.1" font-size="30" fill="#fff" font-weight="bold" text-anchor="start" textLength="80.3" lengthAdjust="spacingAndGlyphs" >make</text><text x="307.6" y="59.1" font-size="30" fill="#fff" font-weight="bold" text-anchor="start" textLength="107.4" lengthAdjust="spacingAndGlyphs" >precise</text><text x="422.6" y="59.1" font-size="30" fill="#fff" font-weight="bold" text-anchor="start" textLength="88.9" lengthAdjust="spacingAndGlyphs" >layout</text><text x="521.2" y="59.1" font-size="30" fill="#fff" font-weight="bold" text-anchor="start" textLength="67.6" lengthAdjust="spacingAndGlyphs" >easy</text>
</svg>
</body></html>
